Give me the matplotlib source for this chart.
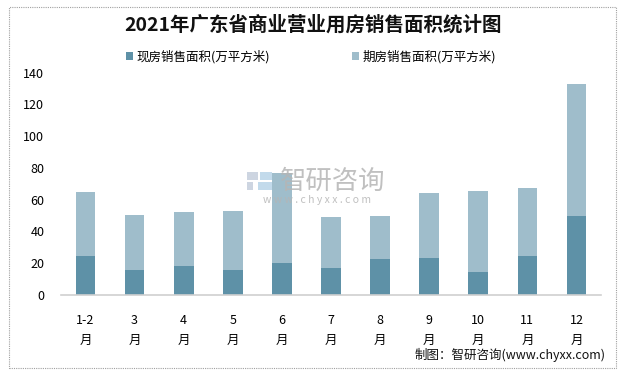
import matplotlib
matplotlib.use("Agg")
import matplotlib.pyplot as plt
from matplotlib.patches import Rectangle

plt.rcParams['font.family'] = ['Noto Sans CJK SC', 'DejaVu Sans']

categories = ["1-2\n月", "3\n月", "4\n月", "5\n月", "6\n月", "7\n月", "8\n月", "9\n月", "10\n月", "11\n月", "12\n月"]
spot_area = [24.6, 15.7, 18.3, 15.7, 20.2, 17.0, 22.7, 23.3, 14.5, 24.6, 49.7]
total_area = [64.9, 50.4, 52.3, 52.9, 76.8, 49.1, 49.7, 64.2, 65.5, 67.4, 132.9]
presale_area = [t - s for t, s in zip(total_area, spot_area)]
yticks = [0, 20, 40, 60, 80, 100, 120, 140]
series_names = ["现房销售面积(万平方米)", "期房销售面积(万平方米)"]
title = "2021年广东省商业营业用房销售面积统计图"
source = "制图：智研咨询(www.chyxx.com)"

c_dark = "#5E91A7"
c_light = "#9FBDCB"

W, H = 635, 375
fig = plt.figure(figsize=(6.35, 3.75), dpi=100)
fig.patch.set_facecolor("white")
ax = fig.add_axes([61/W, 1-295/H, 540/W, (295-72.67)/H])

x = list(range(len(categories)))
ax.bar(x, spot_area, width=0.4, color=c_dark, label=series_names[0])
ax.bar(x, presale_area, width=0.4, bottom=spot_area, color=c_light, label=series_names[1])

ax.set_xlim(-0.5, len(categories) - 0.5)
ax.set_ylim(0, 140)
ax.set_yticks(yticks)
ax.set_yticklabels([str(v) for v in yticks], fontsize=9)
ax.set_xticks(x)
ax.set_xticklabels(categories, fontsize=9, linespacing=1.6)
ax.tick_params(axis='x', length=0, pad=14)
ax.tick_params(axis='y', length=0, pad=12)
for s in ['top', 'right', 'left']:
    ax.spines[s].set_visible(False)
ax.spines['bottom'].set_color("#D0D0D0")
ax.spines['bottom'].set_linewidth(1.2)

# border
fig.add_artist(Rectangle((9/W, 1-368/H), (616-9)/W, (368-7)/H, transform=fig.transFigure,
                         fill=False, edgecolor="#A0A0A0", linewidth=0.8, linestyle=(0, (1, 1))))

fig.text(313/W, 1-25/H, title, ha='center', va='center', fontsize=14, fontweight='bold', color="#111111")

# legend
h, l = ax.get_legend_handles_labels()
fig.legend(h, l, loc='center', bbox_to_anchor=(311/W, 1-57/H), ncol=2, frameon=False,
           fontsize=9, handlelength=0.6, handleheight=0.6, handletextpad=0.3, columnspacing=6.5)

# watermark logo (simple blocks)
for (x0, y0, w, hh, c) in [(247, 172, 11, 8, "#C5CEDC"), (247, 182, 6, 8, "#C5CEDC"),
                           (260, 172, 12, 8, "#B8D4E8"), (258, 182, 14, 8, "#B8D4E8")]:
    fig.add_artist(Rectangle((x0/W, 1-(y0+hh)/H), w/W, hh/H, transform=fig.transFigure,
                             facecolor=c, edgecolor='none', alpha=0.85))
fig.text(333/W, 1-181/H, "智研咨询", ha='center', va='center', fontsize=19, color="#B5B5B5", alpha=0.85)
fig.text(317/W, 1-200/H, "w w w . c h y x x . c o m", ha='center', va='center', fontsize=7.5, color="#B5B5B5", alpha=0.85)

fig.text(606/W, 1-355/H, source, ha='right', va='center', fontsize=9, color="#111111")

fig.savefig("out.png", dpi=100)
